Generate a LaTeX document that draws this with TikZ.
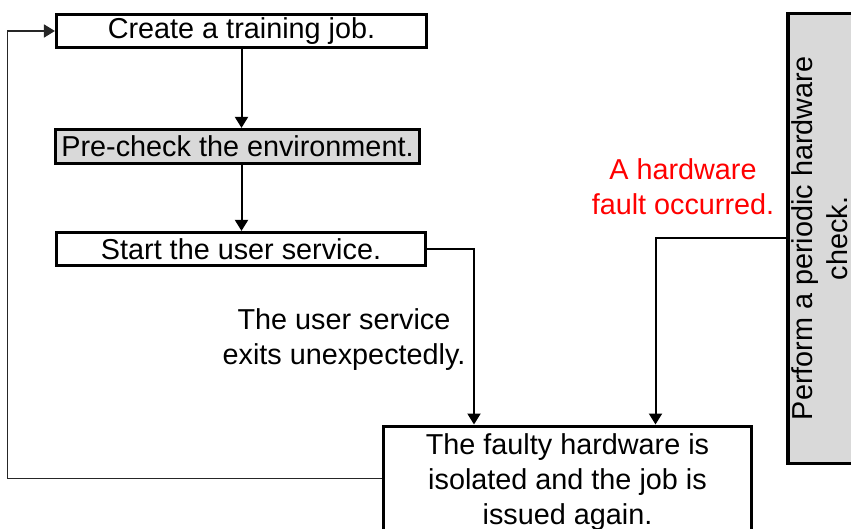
\documentclass[tikz,border=0pt]{standalone}
\usepackage{fontspec}
\setmainfont{Liberation Sans}
\usetikzlibrary{arrows.meta,calc}

\definecolor{kastengrau}{RGB}{217,217,217}
\definecolor{fehlerrot}{RGB}{255,0,0}

\begin{document}
\begin{tikzpicture}[x=0.5pt, y=-0.5pt,
        schrift/.style={font=\fontsize{14.4}{17.5}\selectfont},
        kasten/.style={draw, line width=1.6pt, inner sep=0pt, schrift},
        pfeil/.style={-{Triangle[length=5.5pt,width=6.5pt]}, line width=1pt},
        rueckweg/.style={pfeil, black!85, line width=0.9pt},
        beschriftung/.style={align=center, schrift}]
        % Rahmen
        \clip (0,0) rectangle (851,529);

        % Kästen links
        \node[kasten, minimum width=185pt, minimum height=16.5pt] (create) at (241.5,31) {Create a training job.};
        \node[kasten, fill=kastengrau, minimum width=182pt, minimum height=17pt] (precheck) at (237.5,146.5) {Pre-check the environment.};
        \node[kasten, minimum width=184.5pt, minimum height=16.5pt] (start) at (241,249) {Start the user service.};

        % Kasten unten
        \node[kasten, anchor=north, align=center, minimum width=184pt, inner ysep=4pt] (isolate) at (567.5,424.5)
            {The faulty hardware is\\isolated and the job is\\issued again.};

        % Kasten rechts (Text gedreht)
        \node[kasten, fill=kastengrau, minimum width=33.5pt, minimum height=225pt] (check) at (823,238.5)
            {\rotatebox{90}{\begin{tabular}{@{}c@{}}Perform a periodic hardware\\check.\end{tabular}}};

        % Beschriftungen
        \node[beschriftung] (exit) at (344,340) {The user service\\exits unexpectedly.};
        \node[beschriftung, text=fehlerrot] (fault) at (683,187) {A hardware\\fault occurred.};

        % Pfeile
        \draw[pfeil] (create.south) -- (create.south |- precheck.north);
        \draw[pfeil] (create.south |- precheck.south) -- (create.south |- start.north);
        \draw[pfeil] (start.east) -| ($(isolate.north)+(-93.5,0)$);
        \draw[pfeil] (check.west) -| ($(isolate.north)+(88,0)$);

        % Zurück zum Anfang
        \draw[rueckweg] ($(isolate.north west)+(0,54)$) -- ++(-374.5,0) |- (create.west);

    \end{tikzpicture}
\end{document}
